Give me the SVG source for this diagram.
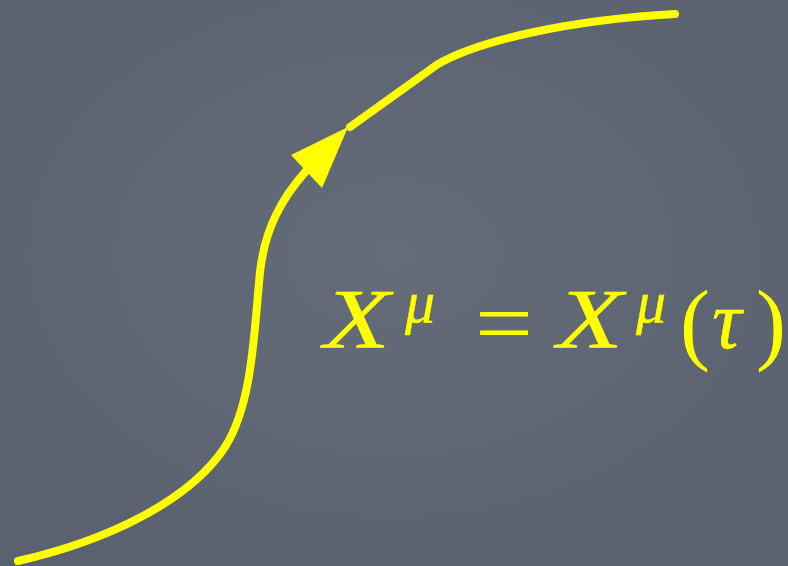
<svg xmlns="http://www.w3.org/2000/svg" width="788" height="566" viewBox="0 0 788 566">
<style>
.curve{fill:none;stroke:#ffff00;stroke-width:8;stroke-linecap:round;stroke-linejoin:round}
.m{fill:#ffff00;font-family:"Liberation Serif","DejaVu Serif",serif}
.b{stroke:#ffff00;stroke-width:0.4}
.i{font-style:italic}
</style>
<defs>
<radialGradient id="bg" cx="0.5" cy="0.45" r="0.75">
<stop offset="0" stop-color="#646b79"/>
<stop offset="1" stop-color="#585f6d"/>
</radialGradient>
</defs>
<rect width="788" height="566" fill="url(#bg)"/>
<g id="connectors">
<path class="curve" d="M18,561 C110,540 190,500 225,447 C252,405 254,335 260,272 C265,228 282,198 306,171"/>
<path class="curve" d="M350,127 L438,64 C480,40 570,20 675,14"/>
<polygon fill="#ffff00" points="348,127 291,155 322,188"/>
</g>
<g id="equation">
<text class="m i b" x="324" y="348" font-size="84" textLength="66" lengthAdjust="spacingAndGlyphs">X</text>
<text class="m i b" x="405" y="322" font-size="60">μ</text>
<text class="m" x="475" y="354" font-size="92" textLength="58" lengthAdjust="spacingAndGlyphs">=</text>
<text class="m i b" x="557" y="348" font-size="84" textLength="66" lengthAdjust="spacingAndGlyphs">X</text>
<text class="m i b" x="636" y="322" font-size="60">μ</text>
<text class="m" x="680" y="353" font-size="90">(</text>
<text class="m i b" x="712" y="348" font-size="82">τ</text>
<text class="m" x="756" y="353" font-size="90">)</text>
</g>
</svg>
